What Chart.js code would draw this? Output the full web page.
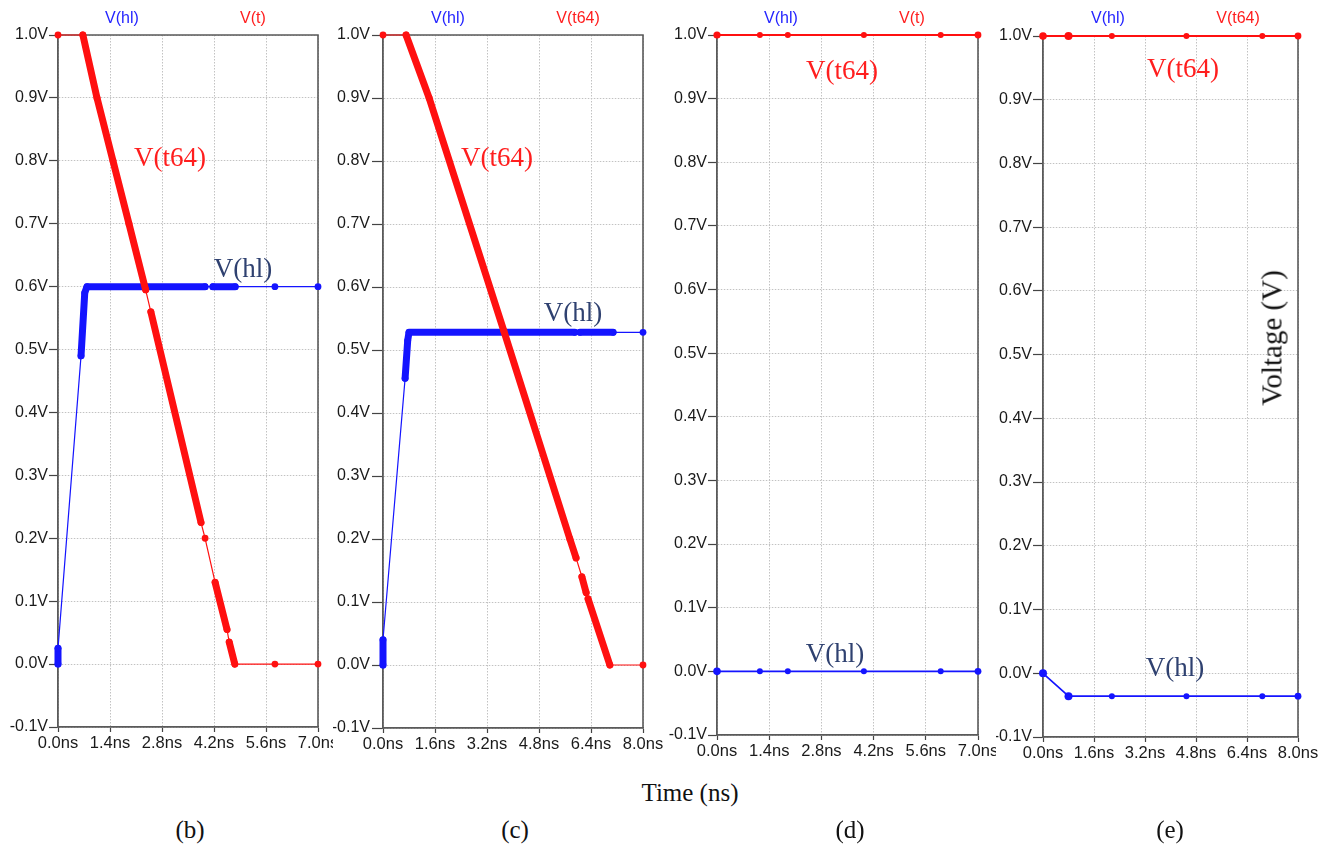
<!DOCTYPE html>
<html><head><meta charset="utf-8">
<script src="https://cdn.jsdelivr.net/npm/chart.js@4.4.0/dist/chart.umd.min.js"></script>
<style>
html,body{margin:0;padding:0;background:#fff;width:1338px;height:849px;overflow:hidden;position:relative;}
.pane{position:absolute;top:0;height:770px;overflow:hidden;}
canvas{display:block;}
.lbl{position:absolute;transform:translate(-50%,-50%);white-space:nowrap;line-height:1;}
.top{font-family:'Liberation Sans',Arial,sans-serif;font-size:16px;}
.ser{font-family:'Liberation Serif','Times New Roman',serif;}
.blue{color:#2424ff;} .red{color:#ff1e1e;} .navy{color:#2f4170;}
.big{font-size:27px;}
.cap{font-size:25px;color:#111;}
</style></head><body>
<div class="pane" style="left:0;width:333px"><canvas id="cb" width="333" height="770"></canvas></div>
<div class="pane" style="left:333px;width:330px"><canvas id="cc" width="330" height="770"></canvas></div>
<div class="pane" style="left:663px;width:333px"><canvas id="cd" width="333" height="770"></canvas></div>
<div class="pane" style="left:996px;width:342px"><canvas id="ce" width="342" height="770"></canvas></div>

<div class="lbl top blue" style="left:122px;top:18px">V(hl)</div>
<div class="lbl top red" style="left:253px;top:18px">V(t)</div>
<div class="lbl top blue" style="left:448px;top:18px">V(hl)</div>
<div class="lbl top red" style="left:578px;top:18px">V(t64)</div>
<div class="lbl top blue" style="left:781px;top:18px">V(hl)</div>
<div class="lbl top red" style="left:912px;top:18px">V(t)</div>
<div class="lbl top blue" style="left:1108px;top:18px">V(hl)</div>
<div class="lbl top red" style="left:1238px;top:18px">V(t64)</div>

<div class="lbl ser big red" style="left:170px;top:157px">V(t64)</div>
<div class="lbl ser big navy" style="left:243px;top:268px">V(hl)</div>
<div class="lbl ser big red" style="left:497px;top:157px">V(t64)</div>
<div class="lbl ser big navy" style="left:573px;top:312px">V(hl)</div>
<div class="lbl ser big red" style="left:842px;top:70px">V(t64)</div>
<div class="lbl ser big navy" style="left:835px;top:653px">V(hl)</div>
<div class="lbl ser big red" style="left:1183px;top:68px">V(t64)</div>
<div class="lbl ser big navy" style="left:1175px;top:667px">V(hl)</div>

<div class="lbl ser" style="left:1272px;top:338px;font-size:29px;color:#111;transform:translate(-50%,-50%) rotate(-90deg)">Voltage (V)</div>
<div class="lbl ser cap" style="left:690px;top:792px">Time (ns)</div>
<div class="lbl ser cap" style="left:190px;top:829px">(b)</div>
<div class="lbl ser cap" style="left:515px;top:829px">(c)</div>
<div class="lbl ser cap" style="left:850px;top:829px">(d)</div>
<div class="lbl ser cap" style="left:1170px;top:829px">(e)</div>

<script>
// ---------- DATA ----------
const yTicks = [-0.1, 0.0, 0.1, 0.2, 0.3, 0.4, 0.5, 0.6, 0.7, 0.8, 0.9, 1.0];
const xTicks7 = [0.0, 1.4, 2.8, 4.2, 5.6, 7.0];
const xTicks8 = [0.0, 1.6, 3.2, 4.8, 6.4, 8.0];

// Panel (b)
const tB_t64 = [0, 0.67, 1.05, 1.48, 1.91, 2.36, 2.50, 3.85, 3.96, 4.23, 4.55, 4.61, 4.76, 5.84, 7.0];
const vB_t64 = [1.0, 1.0, 0.9, 0.8, 0.7, 0.595, 0.56, 0.225, 0.2, 0.13, 0.055, 0.035, 0.0, 0.0, 0.0];
const dB_t64 = [0, 1, 1, 1, 1, 0, 1, 0, 0, 1, 0, 1, 0, 0];
const tB_hl = [0, 0, 0.62, 0.72, 0.78, 3.96, 4.17, 4.77, 5.84, 7.0];
const vB_hl = [0, 0.025, 0.49, 0.59, 0.6, 0.6, 0.6, 0.6, 0.6, 0.6];
const dB_hl = [1, 0, 1, 1, 1, 0, 1, 0, 0];

// Panel (c)
const tC_t64 = [0, 0.71, 1.42, 3.72, 5.75, 5.94, 6.12, 6.25, 6.31, 6.98, 8.0];
const vC_t64 = [1.0, 1.0, 0.9, 0.53, 0.2, 0.17, 0.14, 0.115, 0.105, 0.0, 0.0];
const dC_t64 = [0, 1, 1, 1, 1, 0, 1, 0, 1, 0];
const tC_hl = [0, 0, 0.68, 0.76, 0.8, 5.9, 6.06, 7.08, 8.0];
const vC_hl = [0, 0.04, 0.455, 0.515, 0.528, 0.528, 0.528, 0.528, 0.528];
const dC_hl = [1, 0, 1, 1, 1, 0, 1, 0];

// Panel (d)
const tD = [0, 1.15, 1.9, 3.94, 6.0, 7.0];
const vD_t64 = [1.0, 1.0, 1.0, 1.0, 1.0, 1.0];
const vD_hl = [0.0, 0.0, 0.0, 0.0, 0.0, 0.0];

// Panel (e)
const tE = [0, 0.8, 2.16, 4.5, 6.88, 8.0];
const vE_t64 = [1.0, 1.0, 1.0, 1.0, 1.0, 1.0];
const vE_hl = [0.0, -0.036, -0.036, -0.036, -0.036, -0.036];

// ---------- CHARTS ----------
const RED = '#ff1010', BLUE = '#1414ff';
const SANS = "'Liberation Sans', Arial, sans-serif";

function pts(t, v) { return t.map((x, i) => ({ x: x, y: v[i] })); }

const framePlugin = {
  id: 'frame',
  beforeDatasetsDraw(chart) {
    const { ctx, chartArea: a } = chart;
    ctx.save();
    ctx.strokeStyle = '#5a5a5a';
    ctx.lineWidth = 1.6;
    ctx.beginPath();
    ctx.moveTo(a.left, a.top);
    ctx.lineTo(a.right, a.top);
    ctx.lineTo(a.right, a.bottom);
    ctx.stroke();
    ctx.restore();
  }
};

function makePanel(id, o) {
  const datasets = o.series.map(s => {
    const ds = {
      data: pts(s.t, s.v),
      borderColor: s.color,
      backgroundColor: s.color,
      borderWidth: s.lw,
      pointRadius: s.radius,
      pointHoverRadius: 0,
      pointBorderWidth: 0,
      pointBackgroundColor: s.color,
      tension: 0,
      clip: false,
      borderCapStyle: 'round',
      borderJoinStyle: 'round'
    };
    if (s.dense) {
      ds.segment = { borderWidth: c => (s.dense[c.p0DataIndex] ? s.bandW : s.lw) };
    }
    return ds;
  });
  new Chart(document.getElementById(id), {
    type: 'line',
    data: { datasets },
    plugins: [framePlugin],
    options: {
      responsive: false,
      animation: false,
      events: [],
      layout: { padding: { top: o.padTop, right: o.padRight, left: 0, bottom: 0 } },
      plugins: { legend: { display: false }, tooltip: { enabled: false } },
      scales: {
        x: {
          type: 'linear', min: 0, max: o.xMax,
          afterBuildTicks: sc => { sc.ticks = o.xTicks.map(v => ({ value: v })); },
          afterFit: sc => { sc.height = o.xH; sc.paddingLeft = 0; sc.paddingRight = 0; },
          ticks: { callback: v => v.toFixed(1) + 'ns', font: { family: SANS, size: 16.5 }, color: '#1a1a1a', padding: 2, maxRotation: 0, autoSkip: false },
          grid: { color: '#c2c2c2', lineWidth: 1, tickColor: '#444', tickLength: 5, tickWidth: 1.2 },
          border: { color: '#5a5a5a', width: 1.8, dash: [1.5, 1.5] }
        },
        y: {
          type: 'linear', min: -0.1, max: 1.0,
          afterBuildTicks: sc => { sc.ticks = yTicks.map(v => ({ value: v })); },
          afterFit: sc => { sc.width = o.yW; sc.paddingTop = 0; sc.paddingBottom = 0; },
          ticks: { callback: v => v.toFixed(1) + 'V', font: { family: SANS, size: 16 }, color: '#1a1a1a', padding: o.yPad },
          grid: { color: '#c2c2c2', lineWidth: 1, tickColor: '#444', tickLength: o.yTick, tickWidth: 1.2 },
          border: { color: '#5a5a5a', width: 1.8, dash: [1.5, 1.5] }
        }
      }
    }
  });
}

makePanel('cb', {
  xMax: 7, xTicks: xTicks7, yW: 58, xH: 43, padTop: 35, padRight: 15, yPad: 1, yTick: 9,
  series: [
    { t: tB_t64, v: vB_t64, color: RED, lw: 1.2, bandW: 7, radius: 3.4, dense: dB_t64 },
    { t: tB_hl, v: vB_hl, color: BLUE, lw: 1.2, bandW: 7, radius: 3.4, dense: dB_hl }
  ]
});
makePanel('cc', {
  xMax: 8, xTicks: xTicks8, yW: 50, xH: 42, padTop: 35, padRight: 20, yPad: 2, yTick: 11,
  series: [
    { t: tC_t64, v: vC_t64, color: RED, lw: 1.2, bandW: 7, radius: 3.4, dense: dC_t64 },
    { t: tC_hl, v: vC_hl, color: BLUE, lw: 1.2, bandW: 7, radius: 3.4, dense: dC_hl }
  ]
});
makePanel('cd', {
  xMax: 7, xTicks: xTicks7, yW: 54, xH: 35, padTop: 35, padRight: 18, yPad: 1, yTick: 9,
  series: [
    { t: tD, v: vD_t64, color: RED, lw: 2, radius: [3.6, 3.0, 3.0, 3.0, 3.0, 3.4] },
    { t: tD, v: vD_hl, color: BLUE, lw: 1.7, radius: [3.8, 3.0, 3.0, 3.0, 3.0, 3.4] }
  ]
});
makePanel('ce', {
  xMax: 8, xTicks: xTicks8, yW: 47, xH: 33, padTop: 36, padRight: 40, yPad: 1, yTick: 10,
  series: [
    { t: tE, v: vE_t64, color: RED, lw: 2, radius: [3.8, 4.0, 3.0, 3.0, 3.0, 3.4] },
    { t: tE, v: vE_hl, color: BLUE, lw: 1.7, radius: [4.0, 4.0, 3.0, 3.0, 3.0, 3.4] }
  ]
});
</script>
</body></html>
